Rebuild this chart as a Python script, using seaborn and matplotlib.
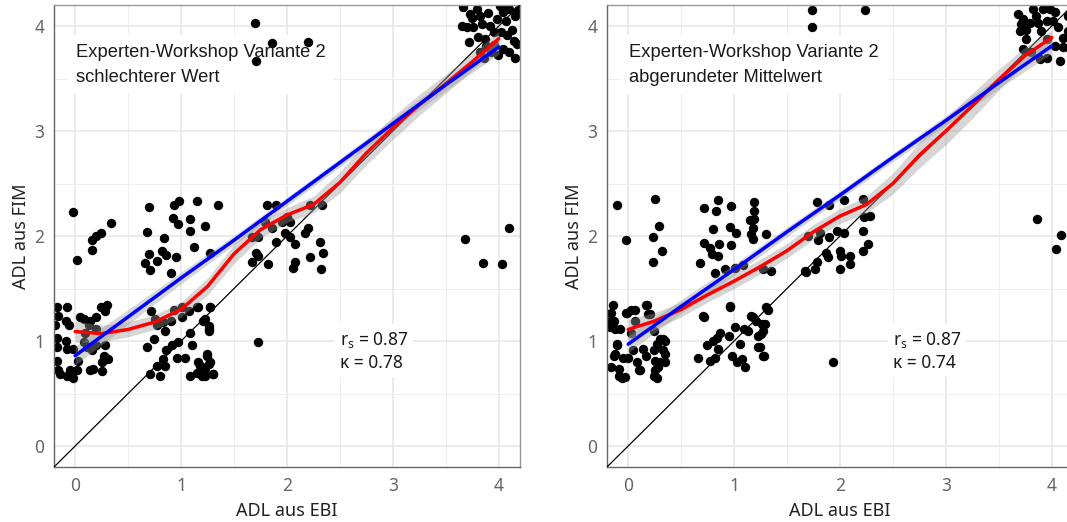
import numpy as np
import pandas as pd
import matplotlib
matplotlib.use("Agg")
import matplotlib.pyplot as plt
import seaborn as sns

sns.set_theme(style="white")
plt.rcParams["font.family"] = ["Noto Sans", "DejaVu Sans"]

# ---------------- data: ADL scores, EBI (x) vs FIM (y), jittered ----------------
left_x = [
    -0.02, 0.02, 0.16, 0.20, 0.24, 0.16, 0.34,
    0.70, 0.93, 0.98, 1.15, 0.92, 0.97, 1.08, 1.08, 1.12, 0.68, 0.84, 0.70, 0.66,
    0.71, 0.77, 0.82, 0.86, 0.95, 0.90, 1.35, 1.23, 1.27,
    -0.17, -0.08, -0.16, -0.09, -0.19, -0.06, -0.17, -0.09, -0.17, -0.08, -0.02,
    -0.17, -0.16, -0.14, -0.08, -0.02, -0.05, 0.02, 0.08, 0.05, 0.14, 0.20, 0.24,
    0.30, 0.28, 0.08, 0.11, 0.16, 0.20, 0.28, 0.27, 0.25, 0.31, 0.17, 0.14, 0.25,
    0.03, 0.20, 0.13, 0.09,
    0.68, 0.71, 0.77, 0.80, 0.85, 0.83, 0.86, 0.91, 0.97, 0.96, 1.04, 1.10, 1.08,
    1.08, 1.15, 1.18, 1.20, 1.24, 1.27, 1.30, 1.23, 1.21, 1.26, 1.27, 1.15, 0.74,
    0.72, 0.77, 0.83, 0.90, 0.85, 0.93, 1.01, 1.07, 1.01, 0.75, 1.16, 1.27, 1.23,
    1.26, 1.26, 1.24, 1.16, 1.20, 1.26, 1.18, 1.30, 1.23,
    1.73,
    1.81, 1.90, 1.79, 1.86, 1.95, 2.00, 2.03, 1.98, 1.90, 2.03, 1.67, 1.73, 1.71,
    1.73, 1.67, 1.82, 2.08, 2.08, 2.06, 2.17, 2.20, 2.22, 2.31, 2.34, 2.32, 2.33,
    2.22,
    3.66, 3.73, 3.79, 3.82, 3.65, 3.70, 3.76, 3.84, 4.01, 4.04, 4.10, 4.15, 3.98,
    4.02, 4.08, 4.14, 4.17, 4.15, 4.10, 4.04, 3.99, 3.88, 3.87, 3.95, 3.93, 3.82,
    3.75, 3.90, 3.92, 4.07, 3.80, 4.12, 3.95, 4.18, 3.72, 4.06, 3.86,
    1.70, 1.86, 2.20, 1.71, 3.68, 4.10, 3.85, 4.03,
]
left_y = [
    2.23, 1.77, 1.96, 2.00, 2.03, 1.87, 2.12,
    2.28, 2.30, 2.33, 2.33, 2.17, 2.11, 2.16, 2.05, 1.90, 2.04, 1.98, 1.83, 1.74,
    1.68, 1.76, 1.86, 1.82, 1.80, 1.65, 2.30, 2.10, 1.84,
    1.32, 1.32, 1.24, 1.19, 1.15, 1.15, 1.03, 1.00, 0.94, 0.92, 0.92,
    0.81, 0.72, 0.69, 0.67, 0.65, 0.72, 0.72, 1.21, 1.23, 1.19, 1.23, 1.32,
    1.34, 1.29, 0.99, 0.94, 0.91, 0.96, 0.96, 0.86, 0.80, 0.83, 0.73, 0.72, 0.71,
    0.81, 1.11, 1.15, 1.08,
    0.94, 0.69, 0.76, 0.67, 0.76, 0.83, 0.91, 0.96, 0.99, 0.84, 0.84, 0.96, 1.08,
    0.67, 0.70, 0.76, 0.67, 0.86, 0.80, 0.69, 0.73, 1.19, 1.11, 1.32, 1.32, 1.02,
    1.29, 1.15, 1.18, 1.19, 1.10, 1.30, 1.32, 1.29, 1.23, 1.21, 1.32, 1.32, 1.21,
    1.14, 1.10, 0.88, 0.80, 0.75, 0.78, 0.70, 0.69, 0.67,
    0.99,
    2.30, 2.30, 2.13, 2.08, 2.13, 2.18, 2.13, 2.03, 1.94, 1.99, 1.99, 1.99, 1.84,
    1.81, 1.75, 1.73, 1.92, 1.75, 1.70, 2.03, 2.08, 1.80, 1.94, 1.84, 1.69, 2.30,
    2.30,
    4.18, 4.11, 4.16, 4.10, 4.00, 3.99, 3.99, 4.02, 4.19, 4.13, 4.16, 4.10, 4.07,
    3.94, 3.91, 3.86, 3.83, 3.70, 3.75, 3.78, 3.72, 3.81, 3.88, 3.94, 3.75, 3.75,
    4.08, 4.12, 4.00, 4.05, 3.90, 3.96, 3.82, 4.15, 3.85, 4.19, 3.70,
    4.03, 3.84, 3.85, 3.67, 1.97, 2.08, 1.74, 1.73,
]

right_x = [
    -0.11, 0.25, -0.02, 0.29, 0.23, 0.32, 0.23,
    0.72, 0.85, 0.83, 0.97, 0.80, 0.96, 1.02, 1.15, 0.72, 0.77, 0.86, 0.97, 0.79,
    0.85, 0.68, 0.82, 0.91, 1.01, 1.08, 1.19, 1.19, 1.19, 1.18, 1.16, 1.18, 1.30,
    1.27, 1.35,
    -0.14, -0.16, -0.13, -0.17, -0.08, -0.02, 0.06, 0.17, 0.19, 0.06, 0.24, 0.30,
    0.35, 0.27, -0.11, -0.13, -0.05, 0.00, 0.05, 0.08, -0.16, -0.09, -0.03, 0.11,
    0.17, 0.24, 0.25, 0.28, 0.24, 0.33, 0.35, 0.14, 0.03, -0.17, -0.12, -0.11,
    -0.12, -0.09, -0.06, -0.01, 0.03, 0.18, 0.21, 0.10, 0.25, 0.27, 0.33, 0.35,
    0.30,
    0.72, 0.66, 0.74, 0.77, 0.80, 0.84, 0.85, 0.87, 0.82, 0.96, 0.95, 0.98, 1.01,
    1.06, 1.03, 1.07, 1.10, 1.09, 1.13, 1.18, 1.21, 1.23, 1.25, 1.28, 1.29, 1.32,
    0.71, 0.96, 1.16, 1.26, 1.27, 1.23, 1.24, 1.27, 1.30,
    1.78, 1.90, 2.04, 2.22, 1.70, 1.81, 1.79, 1.90, 1.97, 2.04, 2.22, 2.23, 2.28,
    2.26, 2.22, 1.87, 1.89, 1.78, 1.76, 1.68, 2.00, 2.01, 2.09, 2.09, 2.00, 1.67,
    1.93,
    3.68, 3.73, 3.71, 3.79, 3.76, 3.87, 3.82, 3.92, 3.98, 4.03, 4.01, 4.06, 4.11,
    4.11, 4.08, 3.95, 3.89, 3.76, 3.73, 3.95, 4.03,
    3.70, 3.85, 3.95, 4.15, 4.15, 3.80, 3.90, 4.17,
    1.74, 1.74, 2.24, 3.86, 4.04, 4.09,
]
right_y = [
    2.30, 2.35, 1.96, 2.10, 1.99, 1.86, 1.75,
    2.27, 2.34, 2.24, 2.29, 2.07, 2.09, 2.03, 2.15, 1.93, 1.89, 1.92, 1.91, 1.83,
    1.81, 1.74, 1.65, 1.69, 1.70, 1.72, 2.32, 2.24, 2.16, 2.08, 2.02, 1.97, 2.02,
    1.69, 1.67,
    1.34, 1.27, 1.19, 1.13, 1.11, 1.27, 1.30, 1.34, 1.26, 1.19, 1.10, 1.02,
    1.00, 0.97, 0.96, 0.86, 0.84, 0.84, 0.91, 0.80, 0.75, 0.67, 0.66, 0.72,
    0.86, 0.91, 0.81, 0.75, 0.67, 0.91, 0.80, 0.92, 1.08, 1.19, 1.11, 0.97,
    0.88, 0.73, 0.65, 1.27, 1.30, 1.34, 1.26, 0.72, 0.72, 0.65, 1.02, 0.88,
    0.80,
    1.23, 0.84, 0.96, 0.81, 1.00, 1.03, 0.92, 1.08, 0.84, 1.32, 1.05, 0.86, 1.13,
    0.97, 0.80, 0.83, 0.75, 1.11, 1.10, 1.23, 1.19, 0.94, 1.07, 0.86, 1.16, 1.30,
    1.24, 1.33, 1.24, 1.16, 1.10, 1.05, 0.94, 0.86, 1.32,
    2.32, 2.30, 2.34, 2.35, 2.00, 2.03, 1.96, 1.99, 2.05, 2.03, 2.05, 2.18, 2.19,
    1.92, 1.86, 1.84, 1.80, 1.75, 1.69, 1.66, 1.86, 1.81, 1.81, 1.73, 1.69, 1.67,
    0.80,
    4.11, 4.07, 4.02, 4.03, 3.96, 4.03, 4.16, 4.16, 4.16, 4.13, 4.05, 3.99, 3.89,
    3.80, 3.67, 3.70, 3.69, 3.88, 3.78, 3.88, 3.81,
    3.95, 4.10, 4.05, 4.10, 3.95, 3.75, 3.95, 3.78,
    4.15, 3.99, 4.15, 2.16, 1.88, 2.01,
]

# ---------------- fitted curves (linear model and loess) ----------------
lin_x = [0.0, 0.5, 1.0, 1.5, 2.0, 2.5, 3.0, 3.5, 4.0]
lin_left = [0.86, 1.23, 1.60, 1.96, 2.33, 2.70, 3.07, 3.44, 3.80]
lin_left_se = [0.09, 0.07, 0.055, 0.045, 0.04, 0.04, 0.045, 0.055, 0.07]
lin_right = [0.97, 1.33, 1.68, 2.04, 2.39, 2.75, 3.10, 3.46, 3.81]
lin_right_se = [0.08, 0.065, 0.05, 0.045, 0.04, 0.04, 0.045, 0.055, 0.07]

loess_x = [0.0, 0.25, 0.5, 0.75, 1.0, 1.25, 1.5, 1.75, 2.0, 2.25, 2.5, 2.75,
           3.0, 3.25, 3.5, 3.75, 4.0]
loess_left = [1.09, 1.07, 1.11, 1.18, 1.30, 1.52, 1.83, 2.06, 2.20, 2.30, 2.51,
              2.79, 3.03, 3.25, 3.45, 3.66, 3.88]
loess_left_se = [0.10, 0.08, 0.07, 0.07, 0.07, 0.08, 0.09, 0.08, 0.07, 0.08,
                 0.10, 0.11, 0.11, 0.10, 0.09, 0.08, 0.07]
loess_right = [1.11, 1.19, 1.30, 1.44, 1.57, 1.71, 1.86, 2.04, 2.19, 2.30, 2.50,
               2.77, 3.00, 3.24, 3.49, 3.72, 3.89]
loess_right_se = [0.10, 0.08, 0.07, 0.07, 0.07, 0.07, 0.07, 0.07, 0.07, 0.08,
                  0.10, 0.12, 0.13, 0.12, 0.10, 0.08, 0.07]

panels = [
    dict(x=left_x, y=left_y, lin=lin_left, lin_se=lin_left_se,
         lo=loess_left, lo_se=loess_left_se,
         title="Experten-Workshop Variante 2\nschlechterer Wert",
         rs="0.87", kappa="0.78"),
    dict(x=right_x, y=right_y, lin=lin_right, lin_se=lin_right_se,
         lo=loess_right, lo_se=loess_right_se,
         title="Experten-Workshop Variante 2\nabgerundeter Mittelwert",
         rs="0.87", kappa="0.74"),
]

W, H = 1067, 522
fig = plt.figure(figsize=(W / 100, H / 100), dpi=100)
fig.patch.set_facecolor("white")
ax_lefts = [54, 607]
band_color = "#999999"


def boxed_label(ax, x, y, s, pad, **kw):
    """White label box under the points, text on top of everything."""
    ax.text(x, y, s, color="none", zorder=1.5,
            bbox=dict(facecolor="white", edgecolor="none",
                      boxstyle=f"square,pad={pad}"), **kw)
    ax.text(x, y, s, color="#1a1a1a", zorder=7, **kw)


for left_px, p in zip(ax_lefts, panels):
    ax = fig.add_axes([left_px / W, 55 / H, 466 / W, 462 / H])
    ax.set_facecolor("white")
    ax.set_xlim(-0.2, 4.2)
    ax.set_ylim(-0.2, 4.2)
    ax.set_xticks([0, 1, 2, 3, 4])
    ax.set_yticks([0, 1, 2, 3, 4])
    ax.set_xticks([0.5, 1.5, 2.5, 3.5], minor=True)
    ax.set_yticks([0.5, 1.5, 2.5, 3.5], minor=True)
    ax.grid(True, which="major", color="#e6e6e6", lw=1.1, zorder=0)
    ax.grid(True, which="minor", color="#efefef", lw=0.7, zorder=0)
    ax.set_axisbelow(True)

    df = pd.DataFrame({"EBI": p["x"], "FIM": p["y"]})
    sns.scatterplot(data=df, x="EBI", y="FIM", ax=ax, color="black", s=46,
                    linewidth=0, zorder=2)

    ax.axline((0, 0), slope=1, color="black", lw=0.9, zorder=3)

    lo = np.array(p["lo"]); lo_se = np.array(p["lo_se"])
    ax.fill_between(loess_x, lo - lo_se, lo + lo_se, color=band_color,
                    alpha=0.4, lw=0, zorder=4)
    lin = np.array(p["lin"]); lin_se = np.array(p["lin_se"])
    ax.fill_between(lin_x, lin - lin_se, lin + lin_se, color=band_color,
                    alpha=0.4, lw=0, zorder=4)
    sns.lineplot(x=loess_x, y=p["lo"], ax=ax, color="red", lw=2.5, zorder=5)
    sns.lineplot(x=lin_x, y=p["lin"], ax=ax, color="blue", lw=2.5, zorder=6)

    boxed_label(ax, 0.01, 3.63, p["title"], 0.45,
                family=["Liberation Sans"], fontsize=13.2, ha="left",
                va="center", linespacing=1.65)
    boxed_label(ax, 2.5, 0.905,
                "r$_\\mathregular{s}$ = " + p["rs"] + "\nκ = " + p["kappa"], 0.3,
                fontsize=12.5, ha="left", va="center", linespacing=1.25)

    ax.set_xlabel("ADL aus EBI", fontsize=13, color="#222222", labelpad=5)
    ax.set_ylabel("ADL aus FIM", fontsize=13, color="#222222", labelpad=3)
    ax.tick_params(axis="both", which="major", length=4, width=1,
                   color="#666666", labelcolor="#666666", labelsize=12.5,
                   pad=3, direction="out")
    ax.tick_params(axis="both", which="minor", length=0)
    for side in ["left", "bottom"]:
        ax.spines[side].set_color("#666666")
        ax.spines[side].set_linewidth(1.0)
    for side in ["top", "right"]:
        ax.spines[side].set_color("#999999")
        ax.spines[side].set_linewidth(1.0)

fig.savefig("out.png", dpi=100, facecolor="white")
